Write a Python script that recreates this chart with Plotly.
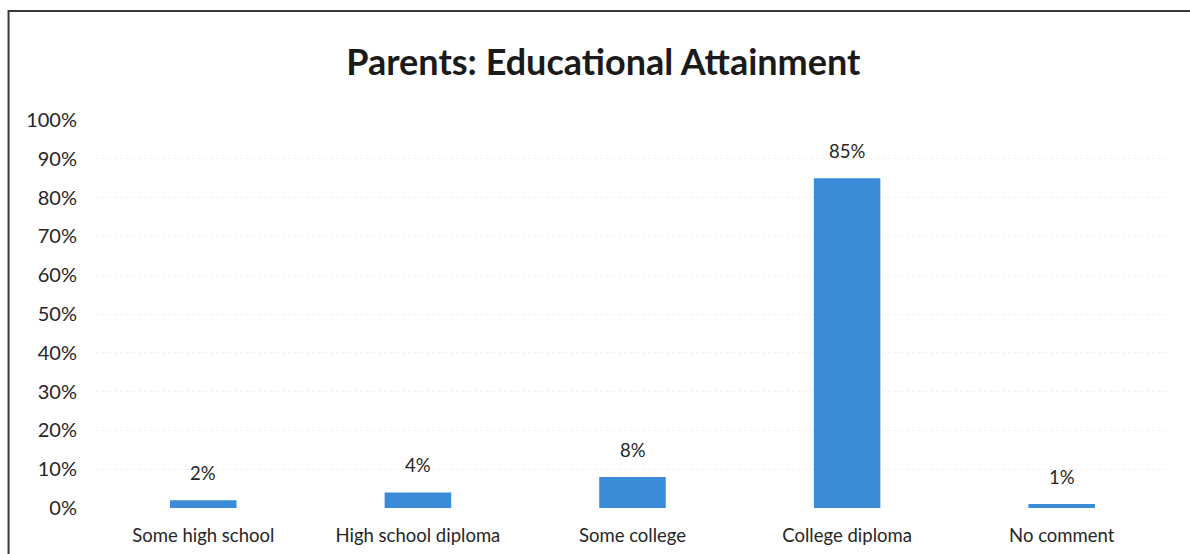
import plotly.graph_objects as go

# Survey results: parents' highest level of education
categories = ["Some high school", "High school diploma", "Some college", "College diploma", "No comment"]
shares = [2, 4, 8, 85, 1]
y_ticks = list(range(0, 101, 10))
y_tick_labels = [f"{v}%" for v in y_ticks]

FONT = "Lato, 'Open Sans', sans-serif"
BAR_BLUE = "#3A8CD8"
TEXT = "#262626"

fig = go.Figure(
    go.Bar(
        x=categories,
        y=shares,
        marker=dict(color=BAR_BLUE, line=dict(width=0)),
        width=0.31,
        hoverinfo="x+y",
    )
)

# value labels floating above each bar
for cat, val in zip(categories, shares):
    fig.add_annotation(
        x=cat, y=val,
        text=f"{val}%",
        showarrow=False,
        xanchor="center", yanchor="middle",
        yshift=27,
        font=dict(family=FONT, size=18.5, color=TEXT),
    )

fig.update_layout(
    width=1190,
    height=554,
    margin=dict(l=96, r=21, t=120, b=46),
    paper_bgcolor="white",
    plot_bgcolor="white",
    showlegend=False,
    title=dict(
        text="<b>Parents: Educational Attainment</b>",
        x=0.507,
        xanchor="center",
        y=0.888,
        yanchor="middle",
        font=dict(family=FONT, size=36, color="#1a1a1a"),
    ),
    font=dict(family=FONT, size=18, color=TEXT),
    shapes=[
        # outer chart frame (runs off the right and bottom edges)
        dict(
            type="rect",
            xref="paper", yref="paper",
            x0=-0.0815, x1=1.05,
            y0=-0.2, y1=1.281,
            line=dict(color="#3a3a3a", width=2),
            fillcolor="rgba(0,0,0,0)",
            layer="above",
        )
    ],
)

fig.update_xaxes(
    showline=False,
    showgrid=False,
    ticks="",
    tickfont=dict(family=FONT, size=18.5, color=TEXT),
    ticklabelstandoff=14,
    automargin=False,
)

fig.update_yaxes(
    range=[0, 100],
    tickvals=y_ticks,
    ticktext=y_tick_labels,
    showline=False,
    zeroline=False,
    showgrid=True,
    gridcolor="#f1f1f1",
    griddash="dot",
    gridwidth=1,
    ticks="",
    tickfont=dict(family=FONT, size=20, color=TEXT),
    ticklabelstandoff=18,
    automargin=False,
)

fig.write_html("out.html")
